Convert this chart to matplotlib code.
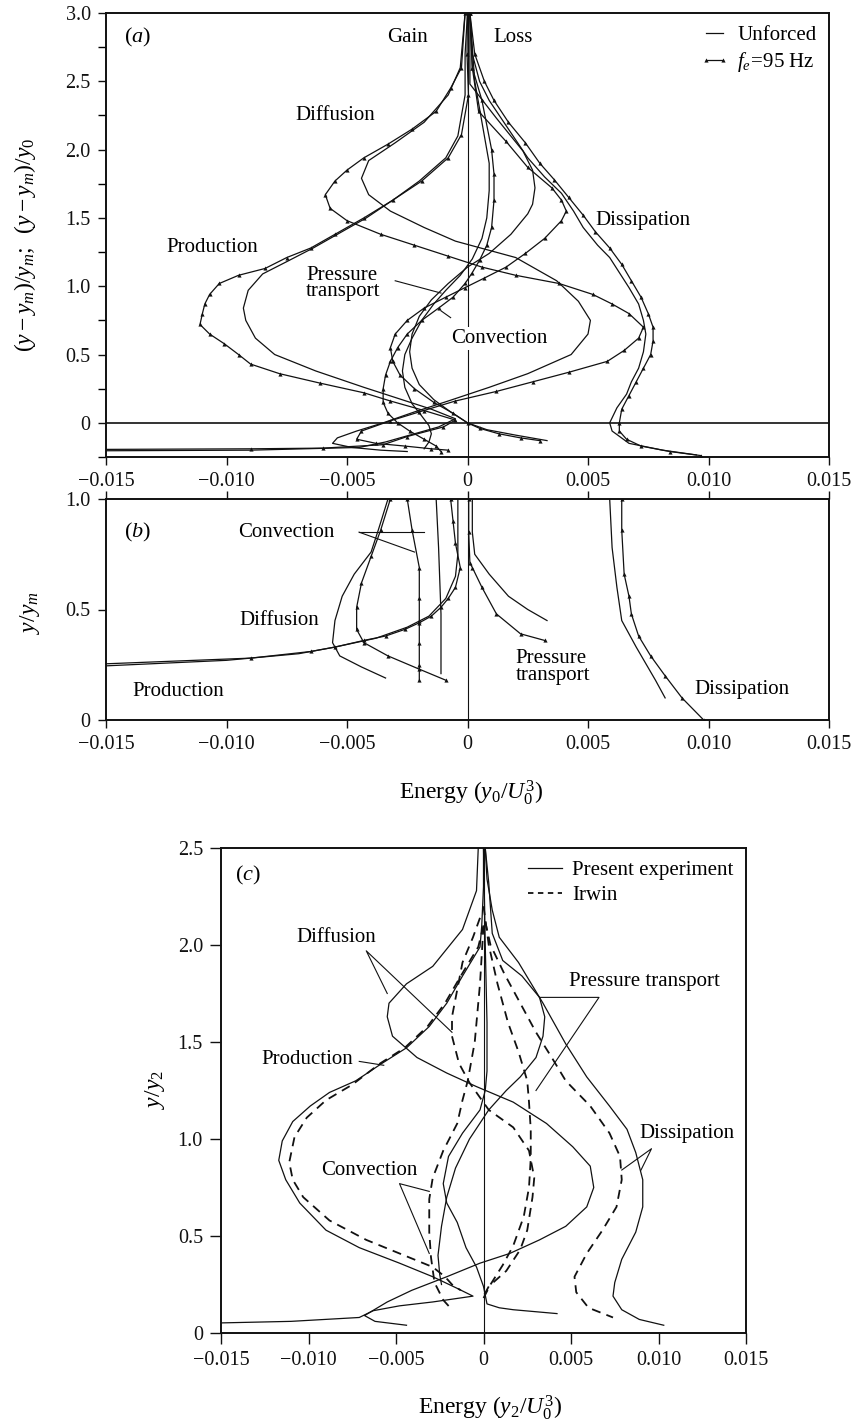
import matplotlib.pyplot as plt
from matplotlib.lines import Line2D

plt.rcParams["font.family"] = "Liberation Serif"
plt.rcParams["mathtext.fontset"] = "custom"
plt.rcParams["mathtext.rm"] = "Liberation Serif"
plt.rcParams["mathtext.it"] = "Liberation Serif:italic"

INK = "#111111"
LW = 0.9
TICK_FS = 14.5
NOTE_FS = 15

# ---------------- panel (a): wake, unforced vs forced at 95 Hz ----------------
a_prod_unf_x = [0.0, -0.0001, -0.0001, -0.0004, -0.0009, -0.002, -0.0031, -0.0042, -0.0054, -0.0064,
                -0.0075, -0.0085, -0.0091, -0.0093, -0.0092, -0.0088, -0.008, -0.0063, -0.0043, -0.0029,
                -0.0015, -0.0005, -0.0012, -0.0024, -0.0034, -0.0045, -0.009, -0.016]
a_prod_unf_y = [3.0, 2.7, 2.4, 2.1, 1.94, 1.77, 1.63, 1.5, 1.38, 1.28,
                1.18, 1.09, 0.97, 0.84, 0.75, 0.62, 0.5, 0.38, 0.26, 0.18,
                0.1, 0.03, -0.03, -0.09, -0.14, -0.18, -0.2, -0.205]
a_prod_f_x = [0.0, -0.00002, 0.00004, -0.00025, -0.0008, -0.0019, -0.0031, -0.0043, -0.0055, -0.0065,
              -0.0075, -0.0084, -0.0095, -0.0103, -0.0107, -0.0109, -0.011, -0.0111, -0.0107, -0.0101,
              -0.0095, -0.009, -0.0078, -0.0061, -0.0043, -0.0032, -0.0018, -0.0005, -0.001, -0.0025,
              -0.0035, -0.006, -0.009, -0.016]
a_prod_f_y = [3.0, 2.7, 2.4, 2.11, 1.94, 1.77, 1.63, 1.5, 1.38, 1.28,
              1.21, 1.13, 1.08, 1.02, 0.94, 0.87, 0.8, 0.72, 0.65, 0.58,
              0.5, 0.43, 0.36, 0.29, 0.22, 0.16, 0.09, 0.02, -0.03, -0.1,
              -0.16, -0.185, -0.19, -0.195]

a_diff_unf_x = [-0.0001, -0.0003, -0.0008, -0.0018, -0.003, -0.0041, -0.0044, -0.0041, -0.0032, -0.0018,
                -0.0005, 0.002, 0.0037, 0.0046, 0.0051, 0.005, 0.0043, 0.0025, 0.0009, -0.0008,
                -0.0022, -0.0035, -0.0046, -0.0054, -0.0056, -0.0048, -0.0036, -0.0025]
a_diff_unf_y = [3.0, 2.6, 2.4, 2.2, 2.05, 1.92, 1.79, 1.67, 1.55, 1.43,
                1.33, 1.21, 1.04, 0.89, 0.75, 0.65, 0.5, 0.36, 0.26, 0.16,
                0.08, 0.0, -0.06, -0.11, -0.15, -0.18, -0.2, -0.21]
a_diff_f_x = [-0.0001, -0.00025, -0.0007, -0.0013, -0.0023, -0.0033, -0.0043, -0.005, -0.0055, -0.0059,
              -0.0057, -0.005, -0.0036, -0.0022, -0.0008, 0.0006, 0.002, 0.0038, 0.0052, 0.006,
              0.0067, 0.0073, 0.0071, 0.0065, 0.0058, 0.0042, 0.0027, 0.0012, -0.0005, -0.002,
              -0.0032, -0.0044, -0.0046, -0.0038, -0.0026, -0.0015, -0.0008]
a_diff_f_y = [3.0, 2.6, 2.45, 2.28, 2.15, 2.04, 1.94, 1.85, 1.77, 1.67,
              1.57, 1.48, 1.38, 1.3, 1.22, 1.14, 1.08, 1.02, 0.94, 0.87,
              0.8, 0.7, 0.62, 0.53, 0.45, 0.37, 0.3, 0.23, 0.16, 0.08,
              0.015, -0.06, -0.12, -0.15, -0.17, -0.19, -0.2]

a_pres_unf_x = [0.0001, 0.0001, 0.0012, 0.0023, 0.0027, 0.0028, 0.0027, 0.0025, 0.0018, 0.0009,
                0.0, -0.0008, -0.0015, -0.002, -0.0023, -0.0024, -0.0023, -0.002, -0.0014, -0.0007,
                0.0, 0.0008, 0.002, 0.0033]
a_pres_unf_y = [3.0, 2.48, 2.23, 1.99, 1.85, 1.72, 1.6, 1.53, 1.38, 1.24,
                1.14, 1.02, 0.9, 0.78, 0.65, 0.52, 0.4, 0.28, 0.17, 0.08,
                0.0, -0.05, -0.09, -0.13]
a_pres_f_x = [0.0001, 0.0002, 0.00046, 0.0016, 0.0025, 0.0035, 0.0039, 0.0041, 0.0039, 0.0032,
              0.0024, 0.0016, 0.0007, -0.0001, -0.0009, -0.0018, -0.0025, -0.003, -0.0032, -0.0031,
              -0.0028, -0.0022, -0.0014, -0.0006, 0.0, 0.0005, 0.0013, 0.0022, 0.003]
a_pres_f_y = [3.0, 2.6, 2.28, 2.06, 1.87, 1.72, 1.63, 1.55, 1.48, 1.35,
              1.24, 1.14, 1.06, 0.99, 0.92, 0.84, 0.75, 0.65, 0.55, 0.45,
              0.35, 0.25, 0.15, 0.07, 0.0, -0.04, -0.08, -0.11, -0.13]

a_conv_unf_x = [0.0001, 0.0003, 0.0006, 0.0009, 0.0009, 0.0008, 0.0006, 0.0002, -0.0003, -0.0009,
                -0.0014, -0.0019, -0.0023, -0.0026, -0.0027, -0.0026, -0.0023, -0.0019, -0.0016, -0.0015,
                -0.0016, -0.0018]
a_conv_unf_y = [3.0, 2.5, 2.2, 1.9, 1.7, 1.5, 1.35, 1.2, 1.08, 0.97,
                0.87, 0.75, 0.62, 0.5, 0.38, 0.26, 0.14, 0.05, -0.02, -0.08,
                -0.14, -0.19]
a_conv_f_x = [0.0001, 0.0002, 0.0006, 0.001, 0.0011, 0.0011, 0.001, 0.0008, 0.0005, 0.0002,
              -0.0001, -0.0006, -0.0012, -0.0019, -0.0025, -0.0029, -0.0032, -0.0034, -0.0035, -0.0035,
              -0.0033, -0.0029, -0.0024, -0.0018, -0.0013, -0.0011]
a_conv_f_y = [3.0, 2.6, 2.36, 2.0, 1.82, 1.63, 1.43, 1.3, 1.19, 1.1,
              1.02, 0.92, 0.84, 0.75, 0.65, 0.55, 0.45, 0.35, 0.25, 0.15,
              0.07, 0.0, -0.06, -0.12, -0.17, -0.21]

a_diss_unf_x = [0.0001, 0.0002, 0.0005, 0.0009, 0.0017, 0.0025, 0.0032, 0.0039, 0.0044, 0.0048,
                0.0054, 0.0059, 0.0063, 0.0067, 0.0071, 0.0073, 0.0074, 0.0073, 0.0071, 0.0068,
                0.0066, 0.0062, 0.0059, 0.006, 0.0067, 0.0081, 0.0095]
a_diss_unf_y = [3.0, 2.7, 2.5, 2.36, 2.15, 1.94, 1.8, 1.68, 1.55, 1.43,
                1.3, 1.21, 1.1, 0.99, 0.87, 0.75, 0.65, 0.52, 0.4, 0.3,
                0.21, 0.11, 0.0, -0.06, -0.15, -0.2, -0.235]
a_diss_f_x = [0.0001, 0.0003, 0.0007, 0.0011, 0.0017, 0.0024, 0.003, 0.0036, 0.0042, 0.0048,
              0.0053, 0.0059, 0.0064, 0.0068, 0.0072, 0.0075, 0.0077, 0.0077, 0.0076, 0.0073,
              0.007, 0.0067, 0.0064, 0.0063, 0.0063, 0.0066, 0.0072, 0.0084, 0.0097]
a_diss_f_y = [3.0, 2.7, 2.5, 2.36, 2.2, 2.05, 1.9, 1.78, 1.65, 1.52,
              1.4, 1.28, 1.16, 1.04, 0.92, 0.8, 0.7, 0.6, 0.5, 0.4,
              0.3, 0.2, 0.1, 0.0, -0.06, -0.12, -0.17, -0.21, -0.24]

# ---------------- panel (b): inner region ----------------
b_prod_unf_x = [-0.016, -0.01, -0.007, -0.0055, -0.0038, -0.0025, -0.0016, -0.0009, -0.0005, -0.0004, -0.0004, -0.0004]
b_prod_unf_y = [0.24, 0.27, 0.3, 0.33, 0.37, 0.42, 0.47, 0.55, 0.65, 0.75, 0.9, 1.0]
b_prod_f_x = [-0.016, -0.009, -0.0065, -0.0055, -0.0043, -0.0034, -0.0026, -0.002, -0.0015, -0.0011,
              -0.0008, -0.0005, -0.0003, -0.0005, -0.0006, -0.0007]
b_prod_f_y = [0.25, 0.28, 0.31, 0.33, 0.36, 0.38, 0.41, 0.44, 0.47, 0.51,
              0.55, 0.6, 0.69, 0.8, 0.9, 1.0]

b_diff_unf_x = [-0.0033, -0.0037, -0.004, -0.0047, -0.0052, -0.0055, -0.0056, -0.0053, -0.0044, -0.0034]
b_diff_unf_y = [1.0, 0.86, 0.76, 0.66, 0.56, 0.45, 0.35, 0.29, 0.24, 0.19]
b_diff_f_x = [-0.0032, -0.0036, -0.004, -0.0044, -0.0046, -0.0046, -0.0043, -0.0033, -0.002, -0.0009]
b_diff_f_y = [1.0, 0.86, 0.74, 0.62, 0.51, 0.41, 0.35, 0.29, 0.23, 0.18]

b_pres_unf_x = [0.0002, 0.0002, 0.0003, 0.0009, 0.0017, 0.0025, 0.0033]
b_pres_unf_y = [1.0, 0.85, 0.75, 0.66, 0.56, 0.5, 0.45]
b_pres_f_x = [0.00005, 0.00005, 0.0001, 0.0002, 0.0006, 0.0012, 0.0022, 0.0032]
b_pres_f_y = [1.0, 0.85, 0.71, 0.69, 0.6, 0.48, 0.39, 0.36]

b_conv_unf_x = [-0.0013, -0.0012, -0.0011, -0.0011]
b_conv_unf_y = [1.0, 0.78, 0.48, 0.21]
b_conv_f_x = [-0.0025, -0.0023, -0.002, -0.002, -0.002, -0.002, -0.002, -0.002]
b_conv_f_y = [1.0, 0.86, 0.69, 0.55, 0.45, 0.35, 0.25, 0.18]

b_diss_unf_x = [0.0059, 0.006, 0.0062, 0.0064, 0.007, 0.0078, 0.0082]
b_diss_unf_y = [1.0, 0.78, 0.6, 0.45, 0.33, 0.18, 0.1]
b_diss_f_x = [0.0064, 0.0064, 0.0065, 0.0067, 0.0068, 0.0071, 0.0076, 0.0082, 0.0089, 0.0098]
b_diss_f_y = [1.0, 0.86, 0.66, 0.56, 0.48, 0.38, 0.29, 0.2, 0.1, 0.0]

# ---------------- panel (c): present experiment vs Irwin ----------------
c_prod_x = [0.0, 0.0, -0.0001, -0.0002, -0.0012, -0.0021, -0.0031, -0.0044, -0.0058, -0.0073,
            -0.0088, -0.0099, -0.0109, -0.0115, -0.0117, -0.0113, -0.0105, -0.009, -0.0071, -0.0048,
            -0.0029, -0.0015, -0.0006, -0.0029, -0.0048, -0.0063, -0.0071, -0.011, -0.016]
c_prod_y = [2.5, 2.3, 2.1, 1.99, 1.84, 1.7, 1.58, 1.47, 1.39, 1.3,
            1.24, 1.17, 1.09, 0.99, 0.89, 0.79, 0.67, 0.53, 0.44, 0.36,
            0.29, 0.23, 0.19, 0.16, 0.14, 0.115, 0.08, 0.06, 0.05]
c_prod_irwin_x = [0.0, -0.0003, -0.0013, -0.0022, -0.0032, -0.0045, -0.0059, -0.0075, -0.009, -0.0101,
                  -0.0108, -0.0111, -0.0109, -0.0103, -0.0088, -0.0067, -0.0048, -0.0029, -0.0022, -0.0018,
                  -0.0013]
c_prod_irwin_y = [2.1, 1.99, 1.84, 1.7, 1.58, 1.47, 1.39, 1.28, 1.2, 1.11,
                  1.01, 0.88, 0.79, 0.7, 0.58, 0.48, 0.41, 0.34, 0.29, 0.25,
                  0.22]

c_diff_x = [-0.0003, -0.0004, -0.0012, -0.0029, -0.0044, -0.0054, -0.0055, -0.0052, -0.0038, -0.0021,
            -0.0004, 0.0017, 0.0036, 0.0051, 0.0061, 0.0063, 0.0059, 0.0047, 0.0032, 0.0015,
            -0.0002, -0.0021, -0.0041, -0.0055, -0.0068, -0.0062, -0.0044]
c_diff_y = [2.5, 2.28, 2.08, 1.89, 1.8, 1.7, 1.63, 1.53, 1.42, 1.34,
            1.27, 1.19, 1.08, 0.96, 0.86, 0.75, 0.65, 0.55, 0.48, 0.41,
            0.36, 0.29, 0.22, 0.16, 0.09, 0.06, 0.04]
c_diff_irwin_x = [-0.0002, -0.0006, -0.0012, -0.0015, -0.0018, -0.0018, -0.0014, -0.0008, 0.0003, 0.0017,
                  0.0026, 0.0029, 0.0028, 0.0025, 0.0021, 0.0013, 0.0003, 0.0]
c_diff_irwin_y = [2.14, 2.04, 1.91, 1.77, 1.63, 1.53, 1.39, 1.29, 1.15, 1.06,
                  0.94, 0.8, 0.7, 0.53, 0.43, 0.32, 0.24, 0.19]

c_pres_x = [0.0001, 0.0003, 0.0005, 0.0011, 0.0022, 0.0032, 0.0035, 0.0034, 0.003, 0.0021,
            0.0013, 0.0003, -0.0008, -0.0016, -0.0021, -0.0024, -0.0026, -0.0025, -0.0024]
c_pres_y = [2.5, 2.32, 2.06, 1.92, 1.84, 1.73, 1.63, 1.53, 1.42, 1.32,
            1.25, 1.15, 1.0, 0.85, 0.7, 0.55, 0.4, 0.3, 0.25]
c_pres_irwin_x = [0.0, 0.0003, 0.0008, 0.0014, 0.002, 0.0025, 0.0026, 0.0027, 0.0027, 0.0026,
                  0.0023, 0.0017, 0.0011, 0.0004, 0.0]
c_pres_irwin_y = [2.2, 2.0, 1.8, 1.6, 1.45, 1.3, 1.19, 1.05, 0.9, 0.75,
                  0.6, 0.45, 0.35, 0.25, 0.18]

c_conv_x = [0.0, 0.0001, 0.0002, 0.0002, 0.0001, -0.0002, -0.0012, -0.002, -0.0023, -0.0021,
            -0.0015, -0.001, -0.0004, 0.0, 0.0002, 0.0009, 0.0017, 0.0042]
c_conv_y = [2.5, 2.0, 1.6, 1.35, 1.25, 1.15, 1.03, 0.91, 0.77, 0.67,
            0.57, 0.44, 0.34, 0.24, 0.15, 0.13, 0.12, 0.1]
c_conv_irwin_x = [0.0, -0.0002, -0.0005, -0.0009, -0.0012, -0.0015, -0.0023, -0.0029, -0.0031, -0.0031,
                  -0.003, -0.0028, -0.0023, -0.0018]
c_conv_irwin_y = [2.1, 1.8, 1.5, 1.3, 1.2, 1.08, 0.94, 0.8, 0.69, 0.52,
                  0.39, 0.26, 0.17, 0.12]

c_diss_x = [0.0001, 0.0002, 0.0005, 0.0009, 0.002, 0.0034, 0.0047, 0.0059, 0.0072, 0.0082,
            0.0087, 0.0091, 0.0091, 0.0087, 0.0079, 0.0075, 0.0074, 0.0079, 0.0089, 0.0103]
c_diss_y = [2.5, 2.34, 2.18, 2.04, 1.91, 1.7, 1.49, 1.32, 1.17, 1.05,
            0.93, 0.79, 0.65, 0.52, 0.38, 0.26, 0.19, 0.12, 0.07, 0.04]
c_diss_irwin_x = [0.0001, 0.0004, 0.0012, 0.0021, 0.003, 0.0039, 0.0047, 0.0061, 0.0072, 0.0078,
                  0.0079, 0.0076, 0.0068, 0.0059, 0.0052, 0.0053, 0.006, 0.0074]
c_diss_irwin_y = [2.12, 2.0, 1.85, 1.7, 1.55, 1.42, 1.3, 1.17, 1.03, 0.91,
                  0.79, 0.65, 0.53, 0.41, 0.29, 0.21, 0.13, 0.08]

energy_ticks = [-0.015, -0.010, -0.005, 0.0, 0.005, 0.010, 0.015]
energy_labels = ["\u22120.015", "\u22120.010", "\u22120.005", "0", "0.005", "0.010", "0.015"]

W, H = 859, 1427
fig = plt.figure(figsize=(W / 100, H / 100), dpi=100)


def box(left, top, right, bottom):
    return [left / W, 1 - bottom / H, (right - left) / W, (bottom - top) / H]


ax_a = fig.add_axes(box(106, 13, 829, 457))
ax_b = fig.add_axes(box(106, 499, 829, 720))
ax_c = fig.add_axes(box(221, 848, 746, 1333))


def style(ax, ylim, yticks, ylabels, tick_len=6):
    ax.set_xlim(-0.015, 0.015)
    ax.set_ylim(*ylim)
    ax.set_xticks(energy_ticks)
    ax.set_xticklabels(energy_labels)
    ax.set_yticks(yticks)
    ax.set_yticklabels(ylabels)
    ax.tick_params(direction="out", length=tick_len, width=1.0, labelsize=TICK_FS, pad=5, colors=INK)
    for s in ax.spines.values():
        s.set_linewidth(1.4)
        s.set_color(INK)
    ax.axvline(0, color=INK, lw=0.8, zorder=1)


def unforced(ax, x, y):
    ax.plot(x, y, color=INK, lw=LW, zorder=2)


def forced(ax, x, y):
    ax.plot(x, y, color=INK, lw=LW, marker="^", ms=3.0, mew=0, zorder=2)


# panel (a)
style(ax_a, (-0.25, 3.0), [0, 0.5, 1.0, 1.5, 2.0, 2.5, 3.0],
      ["0", "0.5", "1.0", "1.5", "2.0", "2.5", "3.0"])
ax_a.set_yticks([-0.25, 0.25, 0.75, 1.25, 1.75, 2.25, 2.75], minor=True)
ax_a.tick_params(which="minor", direction="out", length=6, width=1.0)
ax_a.axhline(0, color=INK, lw=1.2, zorder=1)
for xs, ys in [(a_prod_unf_x, a_prod_unf_y), (a_diff_unf_x, a_diff_unf_y), (a_pres_unf_x, a_pres_unf_y),
               (a_conv_unf_x, a_conv_unf_y), (a_diss_unf_x, a_diss_unf_y)]:
    unforced(ax_a, xs, ys)
for xs, ys in [(a_prod_f_x, a_prod_f_y), (a_diff_f_x, a_diff_f_y), (a_pres_f_x, a_pres_f_y),
               (a_conv_f_x, a_conv_f_y), (a_diss_f_x, a_diss_f_y)]:
    forced(ax_a, xs, ys)

ax_a.text(-0.01425, 2.82, r"$\mathrm{(}a\mathrm{)}$", fontsize=16, va="center")
ax_a.text(-0.0025, 2.82, "Gain", fontsize=NOTE_FS, ha="center", va="center")
ax_a.text(0.0019, 2.82, "Loss", fontsize=NOTE_FS, ha="center", va="center")
ax_a.text(-0.0055, 2.25, "Diffusion", fontsize=NOTE_FS, ha="center", va="center")
ax_a.text(-0.0106, 1.28, "Production", fontsize=NOTE_FS, ha="center", va="center")
ax_a.text(-0.0067, 1.02, "Pressure\ntransport", fontsize=NOTE_FS, ha="left", va="center", linespacing=0.85)
ax_a.plot([-0.003, -0.0011], [1.04, 0.95], color=INK, lw=0.8)
ax_a.text(0.0013, 0.62, "Convection", fontsize=NOTE_FS, ha="center", va="center", zorder=4,
          bbox=dict(facecolor="white", edgecolor="none", pad=1.5))
ax_a.plot([-0.0007, -0.0011], [0.77, 0.82], color=INK, lw=0.8)
ax_a.text(0.0073, 1.48, "Dissipation", fontsize=NOTE_FS, ha="center", va="center")

ax_a.legend(
    handles=[Line2D([], [], color=INK, lw=LW),
             Line2D([], [], color=INK, lw=LW, marker="^", ms=3.0, mew=0)],
    labels=["Unforced", r"$f_e\!=\!95\ \mathrm{Hz}$"],
    loc="upper right", frameon=False, fontsize=NOTE_FS, handlelength=1.4,
    handletextpad=0.4, numpoints=2, borderaxespad=0.2, labelspacing=0.25,
)

# panel (b)
style(ax_b, (0, 1.0), [0, 0.5, 1.0], ["0", "0.5", "1.0"])
ax_b.tick_params(axis="x", top=True)
for xs, ys in [(b_prod_unf_x, b_prod_unf_y), (b_diff_unf_x, b_diff_unf_y), (b_pres_unf_x, b_pres_unf_y),
               (b_conv_unf_x, b_conv_unf_y), (b_diss_unf_x, b_diss_unf_y)]:
    unforced(ax_b, xs, ys)
for xs, ys in [(b_prod_f_x, b_prod_f_y), (b_diff_f_x, b_diff_f_y), (b_pres_f_x, b_pres_f_y),
               (b_conv_f_x, b_conv_f_y), (b_diss_f_x, b_diss_f_y)]:
    forced(ax_b, xs, ys)

ax_b.text(-0.01425, 0.85, r"$\mathrm{(}b\mathrm{)}$", fontsize=16, va="center")
ax_b.text(-0.0075, 0.85, "Convection", fontsize=NOTE_FS, ha="center", va="center")
ax_b.plot([-0.0045, -0.0018], [0.85, 0.85], color=INK, lw=0.8)
ax_b.plot([-0.0045, -0.0022], [0.85, 0.76], color=INK, lw=0.8)
ax_b.text(-0.0078, 0.45, "Diffusion", fontsize=NOTE_FS, ha="center", va="center")
ax_b.text(-0.012, 0.13, "Production", fontsize=NOTE_FS, ha="center", va="center")
ax_b.text(0.002, 0.24, "Pressure\ntransport", fontsize=NOTE_FS, ha="left", va="center", linespacing=0.85)
ax_b.text(0.0114, 0.14, "Dissipation", fontsize=NOTE_FS, ha="center", va="center")

fig.text(25 / W, 1 - 245 / H, r"$(y-y_m)/y_m;\;\;(y-y_m)/y_0$", rotation=90, fontsize=17,
         ha="center", va="center")
fig.text(30 / W, 1 - 613 / H, r"$y/y_m$", rotation=90, fontsize=17, ha="center", va="center")
fig.text(471 / W, 1 - 793 / H, r"Energy $(y_0/U_0^3)$", fontsize=17, ha="center", va="center")

# panel (c)
style(ax_c, (0, 2.5), [0, 0.5, 1.0, 1.5, 2.0, 2.5], ["0", "0.5", "1.0", "1.5", "2.0", "2.5"], tick_len=8)
for xs, ys in [(c_prod_x, c_prod_y), (c_diff_x, c_diff_y), (c_pres_x, c_pres_y),
               (c_conv_x, c_conv_y), (c_diss_x, c_diss_y)]:
    ax_c.plot(xs, ys, color=INK, lw=LW, zorder=2)
for xs, ys in [(c_prod_irwin_x, c_prod_irwin_y), (c_diff_irwin_x, c_diff_irwin_y),
               (c_pres_irwin_x, c_pres_irwin_y), (c_conv_irwin_x, c_conv_irwin_y),
               (c_diss_irwin_x, c_diss_irwin_y)]:
    ax_c.plot(xs, ys, color=INK, lw=1.3, ls=(0, (5, 3.5)), zorder=2)

ax_c.text(-0.0142, 2.36, r"$\mathrm{(}c\mathrm{)}$", fontsize=16, va="center")
ax_c.text(-0.0084, 2.04, "Diffusion", fontsize=NOTE_FS, ha="center", va="center")
ax_c.plot([-0.0055, -0.0067, -0.0018], [1.75, 1.97, 1.55], color=INK, lw=0.8)
ax_c.text(-0.0101, 1.41, "Production", fontsize=NOTE_FS, ha="center", va="center")
ax_c.plot([-0.0071, -0.0057], [1.40, 1.38], color=INK, lw=0.8)
ax_c.text(-0.0065, 0.84, "Convection", fontsize=NOTE_FS, ha="center", va="center")
ax_c.plot([-0.0031, -0.0048, -0.0031], [0.73, 0.77, 0.41], color=INK, lw=0.8)
ax_c.text(0.0092, 1.81, "Pressure transport", fontsize=NOTE_FS, ha="center", va="center")
ax_c.plot([0.0032, 0.0066, 0.003], [1.73, 1.73, 1.25], color=INK, lw=0.8)
ax_c.text(0.0116, 1.03, "Dissipation", fontsize=NOTE_FS, ha="center", va="center")
ax_c.plot([0.0079, 0.0096, 0.009], [0.84, 0.95, 0.84], color=INK, lw=0.8)

ax_c.legend(
    handles=[Line2D([], [], color=INK, lw=LW),
             Line2D([], [], color=INK, lw=1.3, ls=(0, (3, 2.5)))],
    labels=["Present experiment", "Irwin"],
    loc="upper right", frameon=False, fontsize=NOTE_FS, handlelength=1.6,
    handletextpad=0.5, borderaxespad=0.2, labelspacing=0.25,
)

fig.text(155 / W, 1 - 1090 / H, r"$y/y_2$", rotation=90, fontsize=17, ha="center", va="center")
fig.text(490 / W, 1 - 1408 / H, r"Energy $(y_2/U_0^3)$", fontsize=17, ha="center", va="center")

fig.savefig("out.png", dpi=100, facecolor="white")
